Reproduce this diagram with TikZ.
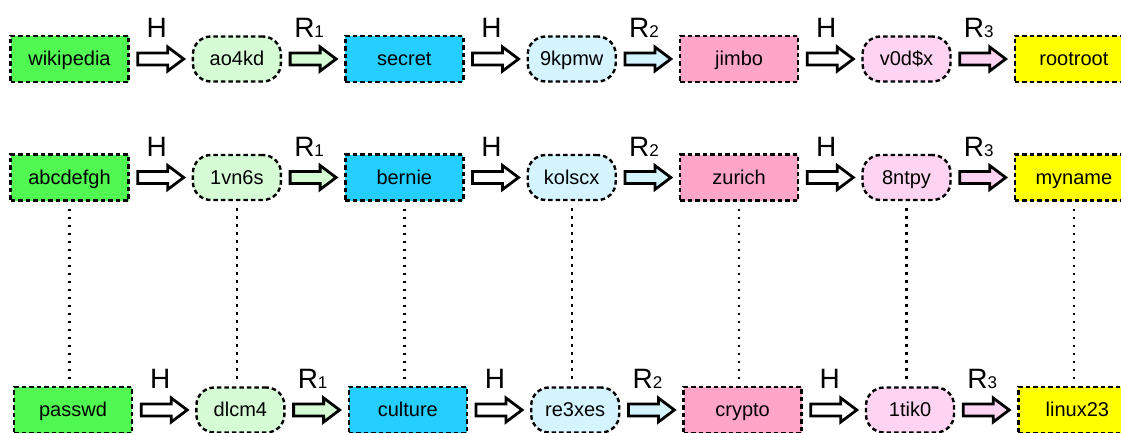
\documentclass[tikz,border=0pt]{standalone}
\usepackage{fontspec}
\setmainfont{Liberation Sans}
\usetikzlibrary{calc,positioning}

\definecolor{pwgreen}{RGB}{82,248,82}
\definecolor{hgreen}{RGB}{214,252,214}
\definecolor{pwcyan}{RGB}{36,206,255}
\definecolor{hcyan}{RGB}{212,244,255}
\definecolor{pwpink}{RGB}{255,166,200}
\definecolor{hpink}{RGB}{255,212,242}
\definecolor{pwyellow}{RGB}{255,255,0}

\newcommand{\rlabel}[1]{R{\fontsize{17}{17}\selectfont #1}}

\begin{document}
\begin{tikzpicture}[x=1pt,y=-1pt,
  every node/.style={font=\fontsize{20}{22}\selectfont},
  pwbox/.style={draw, line width=2.4pt, dash pattern=on 4.5pt off 3pt,
    minimum width=118pt, minimum height=46pt, inner sep=0pt,
    text height=17.5pt, text depth=4pt},
  hashbox/.style={pwbox, rounded corners=18pt, minimum width=88pt, minimum height=45pt},
  lbl/.style={font=\fontsize{28}{30}\selectfont, inner sep=0pt},
  blockarrow/.style={draw, line width=2.8pt, line join=miter,
    to path={let \p1=(\tikztostart), \p2=(\tikztotarget) in
      (\x1,\y1+6pt) -- (\x2-16pt,\y1+6pt) -- (\x2-16pt,\y1+12pt) -- (\x2,\y1)
      -- (\x2-16pt,\y1-12pt) -- (\x2-16pt,\y1-6pt) -- (\x1,\y1-6pt) -- cycle}},
  dotline/.style={line width=2.4pt, dash pattern=on 2.4pt off 5.6pt,
    shorten <=7pt, shorten >=7pt},
  node distance=62pt]
  \useasboundingbox (0,0) rectangle (1121,433);
  \clip (0,0) rectangle (1121,433);

  % first chain
  \node[pwbox, fill=pwgreen] (wiki) at (69.5,59) {wikipedia};
  \node[hashbox, fill=hgreen, right=of wiki] (ao4kd) {ao4kd};
  \node[pwbox, fill=pwcyan, right=of ao4kd] (secret) {secret};
  \node[hashbox, fill=hcyan, right=of secret] (kpmw) {9kpmw};
  \node[pwbox, fill=pwpink, right=of kpmw] (jimbo) {jimbo};
  \node[hashbox, fill=hpink, right=of jimbo] (vodx) {v0d\$x};
  \node[pwbox, fill=pwyellow, right=of vodx] (rootroot) {rootroot};

  % second chain
  \node[pwbox, fill=pwgreen] (abc) at (69.5,177.5) {abcdefgh};
  \node[hashbox, fill=hgreen, right=of abc] (vns) {1vn6s};
  \node[pwbox, fill=pwcyan, right=of vns] (bernie) {bernie};
  \node[hashbox, fill=hcyan, right=of bernie] (kolscx) {kolscx};
  \node[pwbox, fill=pwpink, right=of kolscx] (zurich) {zurich};
  \node[hashbox, fill=hpink, right=of zurich] (ntpy) {8ntpy};
  \node[pwbox, fill=pwyellow, right=of ntpy] (myname) {myname};

  % third chain
  \node[pwbox, fill=pwgreen] (passwd) at (73,410) {passwd};
  \node[hashbox, fill=hgreen, right=of passwd] (dlcm) {dlcm4};
  \node[pwbox, fill=pwcyan, right=of dlcm] (culture) {culture};
  \node[hashbox, fill=hcyan, right=of culture] (rexes) {re3xes};
  \node[pwbox, fill=pwpink, right=of rexes] (crypto) {crypto};
  \node[hashbox, fill=hpink, right=of crypto] (tik) {1tik0};
  \node[pwbox, fill=pwyellow, right=of tik] (linux) {linux23};

  % hash and reduction arrows
  \draw[blockarrow, fill=white] ([xshift=8pt]wiki.east) to ([xshift=-8pt]ao4kd.west);
  \draw[blockarrow, fill=hgreen] ([xshift=8pt]ao4kd.east) to ([xshift=-8pt]secret.west);
  \draw[blockarrow, fill=white] ([xshift=8pt]secret.east) to ([xshift=-8pt]kpmw.west);
  \draw[blockarrow, fill=hcyan] ([xshift=8pt]kpmw.east) to ([xshift=-8pt]jimbo.west);
  \draw[blockarrow, fill=white] ([xshift=8pt]jimbo.east) to ([xshift=-8pt]vodx.west);
  \draw[blockarrow, fill=hpink] ([xshift=8pt]vodx.east) to ([xshift=-8pt]rootroot.west);

  \draw[blockarrow, fill=white] ([xshift=8pt]abc.east) to ([xshift=-8pt]vns.west);
  \draw[blockarrow, fill=hgreen] ([xshift=8pt]vns.east) to ([xshift=-8pt]bernie.west);
  \draw[blockarrow, fill=white] ([xshift=8pt]bernie.east) to ([xshift=-8pt]kolscx.west);
  \draw[blockarrow, fill=hcyan] ([xshift=8pt]kolscx.east) to ([xshift=-8pt]zurich.west);
  \draw[blockarrow, fill=white] ([xshift=8pt]zurich.east) to ([xshift=-8pt]ntpy.west);
  \draw[blockarrow, fill=hpink] ([xshift=8pt]ntpy.east) to ([xshift=-8pt]myname.west);

  \draw[blockarrow, fill=white] ([xshift=8pt]passwd.east) to ([xshift=-8pt]dlcm.west);
  \draw[blockarrow, fill=hgreen] ([xshift=8pt]dlcm.east) to ([xshift=-8pt]culture.west);
  \draw[blockarrow, fill=white] ([xshift=8pt]culture.east) to ([xshift=-8pt]rexes.west);
  \draw[blockarrow, fill=hcyan] ([xshift=8pt]rexes.east) to ([xshift=-8pt]crypto.west);
  \draw[blockarrow, fill=white] ([xshift=8pt]crypto.east) to ([xshift=-8pt]tik.west);
  \draw[blockarrow, fill=hpink] ([xshift=8pt]tik.east) to ([xshift=-8pt]linux.west);

  % arrow labels
  \node[lbl] (ha) at ($(wiki.east)!0.5!(ao4kd.west)+(-4,-31)$) {H};
  \node[lbl] (ra) at ($(ao4kd.east)!0.5!(secret.west)+(-4,-31)$) {\rlabel{1}};
  \node[lbl] (hb) at ($(secret.east)!0.5!(kpmw.west)+(-4,-31)$) {H};
  \node[lbl] (rb) at ($(kpmw.east)!0.5!(jimbo.west)+(-4,-31)$) {\rlabel{2}};
  \node[lbl] (hc) at ($(jimbo.east)!0.5!(vodx.west)+(-4,-31)$) {H};
  \node[lbl] (rc) at ($(vodx.east)!0.5!(rootroot.west)+(-4,-31)$) {\rlabel{3}};

  \node[lbl] (hd) at ($(abc.east)!0.5!(vns.west)+(-4,-31)$) {H};
  \node[lbl] (rd) at ($(vns.east)!0.5!(bernie.west)+(-4,-31)$) {\rlabel{1}};
  \node[lbl] (he) at ($(bernie.east)!0.5!(kolscx.west)+(-4,-31)$) {H};
  \node[lbl] (re) at ($(kolscx.east)!0.5!(zurich.west)+(-4,-31)$) {\rlabel{2}};
  \node[lbl] (hf) at ($(zurich.east)!0.5!(ntpy.west)+(-4,-31)$) {H};
  \node[lbl] (rf) at ($(ntpy.east)!0.5!(myname.west)+(-4,-31)$) {\rlabel{3}};

  \node[lbl] (hg) at ($(passwd.east)!0.5!(dlcm.west)+(-4,-31)$) {H};
  \node[lbl] (rg) at ($(dlcm.east)!0.5!(culture.west)+(-4,-31)$) {\rlabel{1}};
  \node[lbl] (hh) at ($(culture.east)!0.5!(rexes.west)+(-4,-31)$) {H};
  \node[lbl] (rh) at ($(rexes.east)!0.5!(crypto.west)+(-4,-31)$) {\rlabel{2}};
  \node[lbl] (hi) at ($(crypto.east)!0.5!(tik.west)+(-4,-31)$) {H};
  \node[lbl] (ri) at ($(tik.east)!0.5!(linux.west)+(-4,-31)$) {\rlabel{3}};

  % dotted links between the second and third chains
  \draw[dotline] (abc.south) -- (abc.south |- passwd.north);
  \draw[dotline] (vns.south) -- (vns.south |- dlcm.north);
  \draw[dotline] (bernie.south) -- (bernie.south |- culture.north);
  \draw[dotline] (kolscx.south) -- (kolscx.south |- rexes.north);
  \draw[dotline] (zurich.south) -- (zurich.south |- crypto.north);
  \draw[dotline] (ntpy.south) -- (ntpy.south |- tik.north);
  \draw[dotline] (myname.south) -- (myname.south |- linux.north);
\end{tikzpicture}
\end{document}
